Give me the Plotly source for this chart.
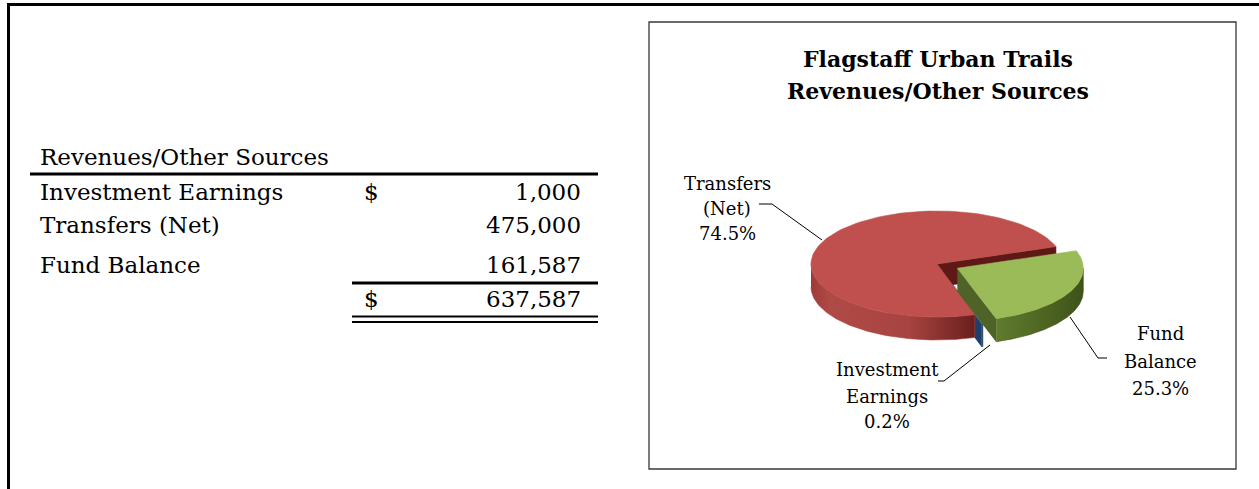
import numpy as np
import plotly.graph_objects as go

# ---------------- data ----------------
categories = ["Investment Earnings", "Transfers (Net)", "Fund Balance"]
amounts = [1000, 475000, 161587]
table_title = "Revenues/Other Sources"
chart_title = ["Flagstaff Urban Trails", "Revenues/Other Sources"]
label_lines = [["Investment", "Earnings"], ["Transfers", "(Net)"], ["Fund", "Balance"]]

# ---------------- styles ----------------
FONT = "DejaVu Serif"
W, H = 1259, 489
top_colors = ["#4F81BD", "#C0504D", "#9BBB59"]
wall_colors = ["#1F3F6B", "#5E1917", "#4F6228"]
side_scales = [
    [[0, "#2A5385"], [1, "#1C3A60"]],
    [[0, "#9E3B38"], [0.12, "#B04A47"], [0.6, "#A74340"], [1, "#6A1F1D"]],
    [[0, "#5F7C2E"], [1, "#3F5219"]],
]
explode = [0.18, 0.0, 0.18]
CX, CY, RX, RY, DEPTH = 937, 264, 126, 53, 23
FIRST_SLICE_ANGLE = 162  # degrees clockwise from 12 o'clock
label_pos = [(887, [369, 396, 421]), (727, [183, 208, 233]), (1160, [333, 361, 388])]
leaders = [
    [(938, 381), (944, 381), (990, 345)],
    [(759, 204), (772, 204), (822, 240)],
    [(1107, 358), (1098, 358), (1070, 317)],
]

fig = go.Figure()

# ---------------- 3-D pie computed from values ----------------
vals = np.array(amounts, dtype=float)
total = vals.sum()
fracs = vals / total
spans = fracs * 360.0
phi = FIRST_SLICE_ANGLE
slices = []
for i, sp in enumerate(spans):
    a = (90.0 - (phi + sp)) % 360.0   # math angle, ccw
    b = a + sp
    phi += sp
    mid = np.radians((a + b) / 2)
    ox = explode[i] * RX * np.cos(mid)
    oy = -explode[i] * RY * np.sin(mid)
    slices.append((a, b, CX + ox, CY + oy))


def arc(cx, cy, t0, t1, dz=0.0, n=120):
    t = np.radians(np.linspace(t0, t1, n))
    return cx + RX * np.cos(t), cy - RY * np.sin(t) + dz


def poly(x, y, color=None, grad=None):
    kw = dict(x=list(x), y=list(y), mode="lines", fill="toself",
              hoverinfo="skip", showlegend=False)
    if grad is not None:
        kw["fillgradient"] = dict(type="horizontal", colorscale=grad)
        kw["line"] = dict(width=0.6, color=grad[len(grad) // 2][1])
    else:
        kw["fillcolor"] = color
        kw["line"] = dict(width=0.6, color=color)
    fig.add_trace(go.Scatter(**kw))


def draw_slice(i, parts=("wall", "side", "top")):
    a, b, cx, cy = slices[i]
    for part in parts:
        if part == "side":
            for lo, hi in ((max(a, 180), min(b, 360)), (max(a, 540), min(b, 720))):
                if hi > lo:
                    xt, yt = arc(cx, cy, lo, hi)
                    xb, yb = arc(cx, cy, hi, lo, DEPTH)
                    poly(np.r_[xt, xb], np.r_[yt, yb], grad=side_scales[i])
        elif part == "wall":
            for ang, vis in ((a, np.cos(np.radians(a)) > 0), (b, np.cos(np.radians(b)) < 0)):
                if vis:
                    px = cx + RX * np.cos(np.radians(ang))
                    py = cy - RY * np.sin(np.radians(ang))
                    poly([cx, px, px, cx], [cy, py, py + DEPTH, cy + DEPTH], color=wall_colors[i])
        elif part == "top":
            xt, yt = arc(cx, cy, a, b)
            poly(np.r_[cx, xt, cx], np.r_[cy, yt, cy], color=top_colors[i])


# painter's order: blue (partly hidden) -> red -> green
draw_slice(0, ("wall", "side", "top"))
draw_slice(1, ("side", "wall", "top"))
draw_slice(2, ("wall", "side", "top"))

# ---------------- annotations ----------------
ann = []
shapes = []

# outer page border
shapes.append(dict(type="line", x0=7, x1=W, y0=4.5, y1=4.5, line=dict(color="black", width=3)))
shapes.append(dict(type="line", x0=8.5, x1=8.5, y0=3, y1=H, line=dict(color="black", width=3)))

# table
TF = dict(family=FONT, size=23, color="black")
ann.append(dict(x=38, y=157, text=table_title, xanchor="left", yanchor="middle", font=TF))
row_y = [192, 225, 265]
for k, (cat, v, ry) in enumerate(zip(categories, amounts, row_y)):
    ann.append(dict(x=38, y=ry, text=cat, xanchor="left", yanchor="middle", font=TF))
    if k == 0:
        ann.append(dict(x=371, y=ry, text="$", xanchor="center", yanchor="middle", font=TF))
    ann.append(dict(x=583, y=ry, text=f"{v:,}", xanchor="right", yanchor="middle", font=TF))
ann.append(dict(x=371, y=299, text="$", xanchor="center", yanchor="middle", font=TF))
ann.append(dict(x=583, y=299, text=f"{int(total):,}", xanchor="right", yanchor="middle", font=TF))

shapes.append(dict(type="line", x0=30, x1=598, y0=174, y1=174, line=dict(color="black", width=3)))
shapes.append(dict(type="line", x0=352, x1=598, y0=283, y1=283, line=dict(color="black", width=3)))
shapes.append(dict(type="line", x0=352, x1=598, y0=316.5, y1=316.5, line=dict(color="black", width=2)))
shapes.append(dict(type="line", x0=352, x1=598, y0=322, y1=322, line=dict(color="black", width=2)))

# chart frame
shapes.append(dict(type="rect", x0=649, x1=1236, y0=22, y1=469,
                   line=dict(color="#383838", width=1.3), fillcolor="rgba(0,0,0,0)"))

# chart title
for t, ty in zip(chart_title, [59, 91]):
    ann.append(dict(x=938, y=ty, text=f"<b>{t}</b>", xanchor="center", yanchor="middle",
                    font=dict(family=FONT, size=22, color="black")))

# data labels
LF = dict(family=FONT, size=18, color="black")
for i, (lines, (lx, lys)) in enumerate(zip(label_lines, label_pos)):
    texts = lines + [f"{fracs[i] * 100:.1f}%"]
    for t, ly in zip(texts, lys):
        ann.append(dict(x=lx, y=ly, text=t, xanchor="center", yanchor="middle", font=LF))

# leader lines
for pts in leaders:
    for (x0, y0), (x1, y1) in zip(pts[:-1], pts[1:]):
        shapes.append(dict(type="line", x0=x0, y0=y0, x1=x1, y1=y1,
                           line=dict(color="black", width=1)))

for a in ann:
    a.update(xref="x", yref="y", showarrow=False)

fig.update_layout(
    width=W, height=H,
    margin=dict(l=0, r=0, t=0, b=0),
    paper_bgcolor="white", plot_bgcolor="white",
    xaxis=dict(range=[0, W], visible=False, fixedrange=True),
    yaxis=dict(range=[H, 0], visible=False, fixedrange=True),
    annotations=ann, shapes=shapes,
    showlegend=False,
)

fig.write_html(
    "out.html",
    config={"displayModeBar": False},
    post_script="document.body.style.margin='0';document.body.style.overflow='hidden';",
)
